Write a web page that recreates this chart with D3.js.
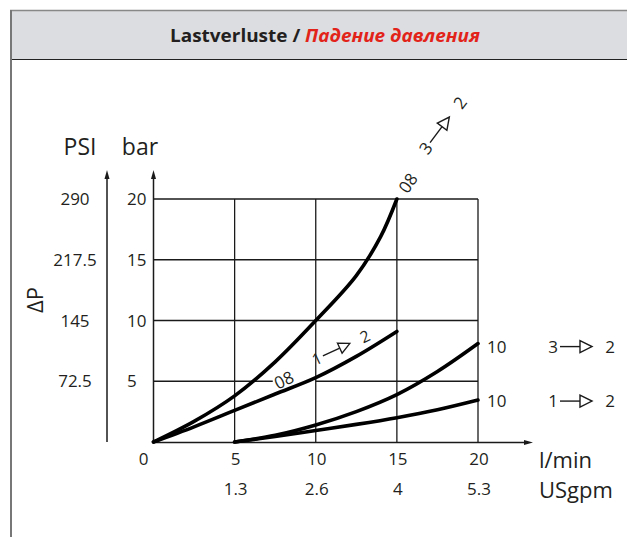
<!DOCTYPE html>
<html>
<head>
<meta charset="utf-8">
<script src="https://cdn.jsdelivr.net/npm/d3@7"></script>
<style>
html,body{margin:0;padding:0;background:#fff;}
svg{display:block;font-family:"Open Sans","DejaVu Sans",sans-serif;}
</style>
</head>
<body>
<svg id="chart" width="627" height="537"></svg>
<script>
// ---- data ----
const titleDe = "Lastverluste / ";
const titleRu = "Падение давления";
const flowTicks = [0, 5, 10, 15, 20];            // l/min
const usgpmTicks = [5, 10, 15, 20];
const usgpmLabels = ["1.3", "2.6", "4", "5.3"];
const barTicks = [5, 10, 15, 20];
const psiLabels = ["72.5", "145", "217.5", "290"];
const hGrid = [10, 15, 20];
const vGrid = [5, 10, 15, 20];
const grid5Segments = [[0, 7.35], [10, 20]];

// size 08
const flow08a = [0, 2.5, 5, 7.5, 10, 12.5, 14, 15];
const dp08_32 = [0, 1.7, 3.8, 6.6, 10, 13.7, 16.9, 20];
const flow08b = [0, 2.5, 5, 7.5, 10, 12.5, 15];
const dp08_12 = [0, 1.25, 2.6, 3.95, 5.3, 7.05, 9.1];
// size 10
const flow10 = [5, 7.5, 10, 12.5, 15, 17.5, 20];
const dp10_32 = [0, 0.55, 1.4, 2.5, 3.9, 5.8, 8.1];
const dp10_12 = [0, 0.45, 0.95, 1.45, 2.0, 2.65, 3.45];

// ---- drawing ----
const svg = d3.select("#chart");
const x = d3.scaleLinear().domain([0, 20]).range([153.5, 478]);
const y = d3.scaleLinear().domain([0, 20]).range([442, 199]);
const ink = "#1a1a1a";
const fs = 17;

// header
svg.append("rect").attr("x", 11).attr("y", 11).attr("width", 616).attr("height", 48).attr("fill", "#dcdde0");
svg.append("line").attr("x1", 10).attr("x2", 627).attr("y1", 10.5).attr("y2", 10.5).attr("stroke", "#888").attr("stroke-width", 1.5);
svg.append("line").attr("x1", 11).attr("x2", 627).attr("y1", 59.5).attr("y2", 59.5).attr("stroke", "#222").attr("stroke-width", 1.2);
svg.append("line").attr("x1", 11).attr("x2", 11).attr("y1", 10).attr("y2", 537).attr("stroke", "#777").attr("stroke-width", 2);
const title = svg.append("text").attr("x", 170).attr("y", 42)
  .attr("font-size", 18.5).attr("font-weight", "bold")
  .attr("textLength", 310).attr("lengthAdjust", "spacingAndGlyphs");
title.append("tspan").attr("fill", "#231f20").text(titleDe);
title.append("tspan").attr("fill", "#e2231a").attr("font-style", "italic").text(titleRu);

// grid
const g = svg.append("g").attr("stroke", ink).attr("stroke-width", 1.3).attr("fill", "none");
vGrid.forEach(v => g.append("line").attr("x1", x(v)).attr("x2", x(v)).attr("y1", y(0)).attr("y2", y(20)));
hGrid.forEach(v => g.append("line").attr("x1", x(0)).attr("x2", x(20)).attr("y1", y(v)).attr("y2", y(v)));
grid5Segments.forEach(s => g.append("line").attr("x1", x(s[0])).attr("x2", x(s[1])).attr("y1", y(5)).attr("y2", y(5)));

// axes
const ax = svg.append("g").attr("stroke", ink).attr("stroke-width", 1.5);
ax.append("line").attr("x1", x(0)).attr("x2", x(0)).attr("y1", y(0) + 1).attr("y2", 176);
ax.append("line").attr("x1", 107).attr("x2", 107).attr("y1", y(0)).attr("y2", 176);
ax.append("line").attr("x1", x(0)).attr("x2", 528).attr("y1", y(0) + 0.5).attr("y2", y(0) + 0.5);
const heads = svg.append("g").attr("fill", ink);
heads.append("path").attr("d", `M${x(0)},170 L${x(0) - 2.5},179 L${x(0) + 2.5},179 Z`);
heads.append("path").attr("d", `M107,170 L104.5,179 L109.5,179 Z`);
heads.append("path").attr("d", `M533,${y(0) + 0.5} L524,${y(0) - 2} L524,${y(0) + 3} Z`);

// tick labels
const tl = svg.append("g").attr("font-size", fs).attr("fill", "#231f20");
barTicks.forEach(v => tl.append("text").attr("x", 127).attr("y", y(v)).attr("dy", "0.36em").text(v));
barTicks.forEach((v, i) => tl.append("text").attr("x", 75).attr("y", y(v)).attr("dy", "0.36em").attr("text-anchor", "middle").text(psiLabels[i]));
flowTicks.forEach(v => tl.append("text")
  .attr("x", v === 0 ? x(v) - 5 : x(v) + 1).attr("y", 465)
  .attr("text-anchor", v === 0 ? "end" : "middle").text(v));
usgpmTicks.forEach((v, i) => tl.append("text").attr("x", x(v) + 1).attr("y", 495).attr("text-anchor", "middle").text(usgpmLabels[i]));

// axis titles
svg.append("text").attr("x", 80).attr("y", 155).attr("text-anchor", "middle").attr("font-size", 23).attr("fill", "#231f20").text("PSI");
svg.append("text").attr("x", 140).attr("y", 155).attr("text-anchor", "middle").attr("font-size", 23).attr("fill", "#231f20").text("bar");
svg.append("text").attr("x", 539).attr("y", 468).attr("font-size", 22).attr("fill", "#231f20").text("l/min");
svg.append("text").attr("x", 539).attr("y", 498).attr("font-size", 22).attr("fill", "#231f20").text("USgpm");
svg.append("text").attr("transform", "translate(43,300) rotate(-90)").attr("text-anchor", "middle")
  .attr("font-size", 22).attr("fill", "#231f20").text("ΔP");

// curves
const line = d3.line().x(d => x(d[0])).y(d => y(d[1])).curve(d3.curveCatmullRom.alpha(0.5));
const series = [
  d3.zip(flow08a, dp08_32),
  d3.zip(flow08b, dp08_12),
  d3.zip(flow10, dp10_32),
  d3.zip(flow10, dp10_12)
];
svg.append("g").selectAll("path").data(series).join("path")
  .attr("d", line).attr("fill", "none").attr("stroke", "#000")
  .attr("stroke-width", 3.6).attr("stroke-linecap", "round");

// flow-direction label: "a ─▷ b"
function dirLabel(cx, cy, angle, a, b, scale) {
  const grp = svg.append("g").attr("transform", `translate(${cx},${cy}) rotate(${angle}) scale(${scale})`);
  grp.append("text").attr("x", -28.5).attr("dy", "0.36em").attr("text-anchor", "middle").attr("font-size", fs).attr("fill", "#231f20").text(a);
  grp.append("line").attr("x1", -21.5).attr("x2", -1.5).attr("y1", 0).attr("y2", 0).attr("stroke", ink).attr("stroke-width", 1.4);
  grp.append("path").attr("d", "M-1.5,-6 L10.5,0 L-1.5,6 Z").attr("fill", "#fff").attr("stroke", ink).attr("stroke-width", 1.4);
  grp.append("text").attr("x", 28.5).attr("dy", "0.36em").attr("text-anchor", "middle").attr("font-size", fs).attr("fill", "#231f20").text(b);
}
function rotText(cx, cy, angle, t) {
  svg.append("text").attr("transform", `translate(${cx},${cy}) rotate(${angle})`).attr("text-anchor", "middle")
    .attr("dy", "0.36em").attr("font-size", fs).attr("fill", "#231f20").text(t);
}
rotText(408, 183, -55, "08");
dirLabel(443, 125.5, -53, "3", "2", 1);
rotText(284, 380, -25, "08");
dirLabel(341, 347.5, -25, "1", "2", 0.93);

// right-side labels
svg.append("text").attr("x", 487).attr("y", y(dp10_32[dp10_32.length - 1]) + 3).attr("dy", "0.36em").attr("font-size", fs).attr("fill", "#231f20").text("10");
svg.append("text").attr("x", 487).attr("y", y(dp10_12[dp10_12.length - 1]) + 1).attr("dy", "0.36em").attr("font-size", fs).attr("fill", "#231f20").text("10");
dirLabel(581.5, y(dp10_32[dp10_32.length - 1]) + 3, 0, "3", "2", 1);
dirLabel(581.5, y(dp10_12[dp10_12.length - 1]) + 1, 0, "1", "2", 1);
</script>
</body>
</html>
